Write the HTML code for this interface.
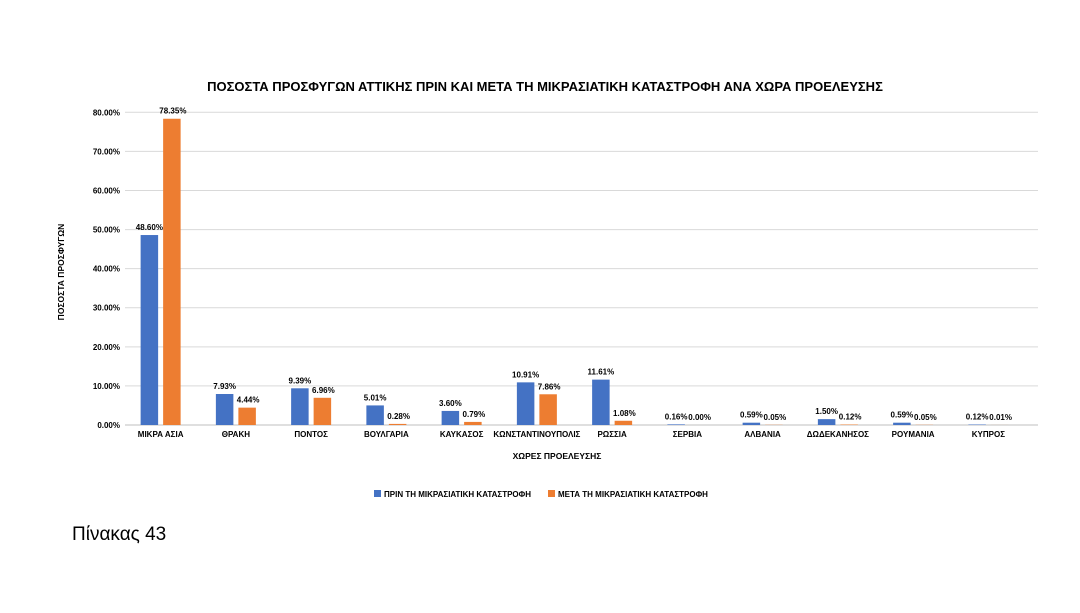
<!DOCTYPE html>
<html><head><meta charset="utf-8"><style>
body{margin:0;background:#fff;}
svg text{font-family:"Liberation Sans","DejaVu Sans",sans-serif;}
</style></head><body>
<svg width="1080" height="608" viewBox="0 0 1080 608" xmlns="http://www.w3.org/2000/svg">
<rect width="1080" height="608" fill="#fff"/>
<text x="545" y="91" text-anchor="middle" font-size="13" font-weight="bold" fill="#000">ΠΟΣΟΣΤΑ ΠΡΟΣΦΥΓΩΝ ΑΤΤΙΚΗΣ ΠΡΙΝ ΚΑΙ ΜΕΤΑ ΤΗ ΜΙΚΡΑΣΙΑΤΙΚΗ ΚΑΤΑΣΤΡΟΦΗ ΑΝΑ ΧΩΡΑ ΠΡΟΕΛΕΥΣΗΣ</text>
<g id="grid"></g><g id="bars"></g><g id="labels"></g>
<text transform="translate(64,272) rotate(-90)" text-anchor="middle" font-size="8.5" font-weight="bold">ΠΟΣΟΣΤΑ ΠΡΟΣΦΥΓΩΝ</text>
<text x="557" y="459" text-anchor="middle" font-size="8.5" font-weight="bold">ΧΩΡΕΣ ΠΡΟΕΛΕΥΣΗΣ</text>
<g>
<rect x="374" y="490" width="7" height="7" fill="#4472c4"/>
<text x="384" y="497" font-size="8" font-weight="bold">ΠΡΙΝ ΤΗ ΜΙΚΡΑΣΙΑΤΙΚΗ ΚΑΤΑΣΤΡΟΦΗ</text>
<rect x="548" y="490" width="7" height="7" fill="#ed7d31"/>
<text x="558" y="497" font-size="8" font-weight="bold">ΜΕΤΑ ΤΗ ΜΙΚΡΑΣΙΑΤΙΚΗ ΚΑΤΑΣΤΡΟΦΗ</text>
</g>
<text x="72" y="540" font-size="19" fill="#000">Πίνακας 43</text>
</svg>
<script>
const categories=["ΜΙΚΡΑ ΑΣΙΑ","ΘΡΑΚΗ","ΠΟΝΤΟΣ","ΒΟΥΛΓΑΡΙΑ","ΚΑΥΚΑΣΟΣ","ΚΩΝΣΤΑΝΤΙΝΟΥΠΟΛΙΣ","ΡΩΣΣΙΑ","ΣΕΡΒΙΑ","ΑΛΒΑΝΙΑ","ΔΩΔΕΚΑΝΗΣΟΣ","ΡΟΥΜΑΝΙΑ","ΚΥΠΡΟΣ"];
const beforeValues=[48.60,7.93,9.39,5.01,3.60,10.91,11.61,0.16,0.59,1.50,0.59,0.12];
const afterValues=[78.35,4.44,6.96,0.28,0.79,7.86,1.08,0.00,0.05,0.12,0.05,0.01];
const yTicks=[0,10,20,30,40,50,60,70,80];
const NS="http://www.w3.org/2000/svg";
const x0=125,x1=1038,yBase=425,yTop=112.3,yMax=80;
const y=v=>yBase-(v/yMax)*(yBase-yTop);
const band=(x1-x0-10)/categories.length;
const cx=i=>x0+band/2-2+i*band;
const bw=17.5,gap=5;
function mk(tag,attrs,parent){const e=document.createElementNS(NS,tag);for(const k in attrs)e.setAttribute(k,attrs[k]);parent.appendChild(e);return e;}
const grid=document.getElementById('grid'),bars=document.getElementById('bars'),labels=document.getElementById('labels');
yTicks.forEach(t=>{
 const l=mk('line',{x1:x0,x2:x1,y1:y(t),y2:y(t),stroke:t===0?'#bfbfbf':'#d9d9d9','stroke-width':1},grid);
 
 
 const tx=mk('text',{x:120,y:y(t)+3,'text-anchor':'end','font-size':8,'font-weight':'bold'},grid);
 tx.textContent=t.toFixed(2)+'%';
 
 
});
categories.forEach((c,i)=>{
 const c0=cx(i);
 const bx=c0-gap/2-bw, ox=c0+gap/2;
 const b=mk('rect',{x:bx,y:y(beforeValues[i]),width:bw,height:yBase-y(beforeValues[i]),fill:'#4472c4'},bars);
 
 
 const o=mk('rect',{x:ox,y:y(afterValues[i]),width:bw,height:yBase-y(afterValues[i]),fill:'#ed7d31'},bars);
 
 
 const lb=mk('text',{x:bx+bw/2,y:y(beforeValues[i])-5,'text-anchor':'middle','font-size':8,'font-weight':'bold'},labels);
 lb.textContent=beforeValues[i].toFixed(2)+'%';
 
 
 const la=mk('text',{x:ox+bw/2+1,y:y(afterValues[i])-5+(afterValues[i]<beforeValues[i]&&afterValues[i]>beforeValues[i]-3?0:0),'text-anchor':'middle','font-size':8,'font-weight':'bold'},labels);
 la.textContent=afterValues[i].toFixed(2)+'%';
 
 
 const cl=mk('text',{x:c0,y:yBase+12,'text-anchor':'middle','font-size':8,'font-weight':'bold'},labels);
 cl.textContent=c;
 
 
});
</script>
</body></html>
